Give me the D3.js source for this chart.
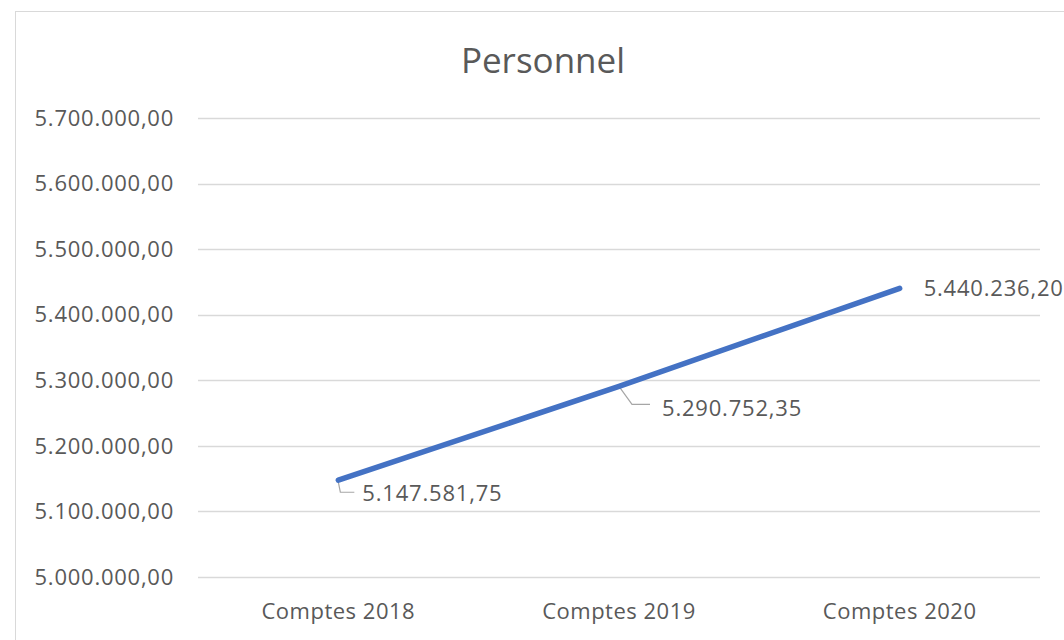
<!DOCTYPE html>
<meta charset="utf-8">
<style>
body { margin: 0; background: #fff; }
text { font-family: "Open Sans", "Noto Sans", sans-serif; fill: #595959; }
.title { font-size: 35px; text-anchor: middle; }
.tick-label { font-size: 22px; letter-spacing: 0.75px; }
.cat-label { font-size: 22px; letter-spacing: 0.5px; text-anchor: middle; }
.data-label { font-size: 22px; letter-spacing: 0.8px; }
</style>
<svg width="1064" height="640"></svg>
<script src="https://cdn.jsdelivr.net/npm/d3@7"></script>
<script>

var categories = ["Comptes 2018", "Comptes 2019", "Comptes 2020"];
var values = [5147581.75, 5290752.35, 5440236.20];
var yTicks = [5000000, 5100000, 5200000, 5300000, 5400000, 5500000, 5600000, 5700000];

var svg = d3.select("svg"),
    width = +svg.attr("width"),
    height = +svg.attr("height");

var locale = d3.formatLocale({ decimal: ",", thousands: ".", grouping: [3], currency: ["", ""] });
var fmt = locale.format(",.2f");

// chart frame
svg.append("rect")
    .attr("x", 15.5).attr("y", 11.5)
    .attr("width", 1100).attr("height", 700)
    .attr("fill", "#fff")
    .attr("stroke", "#d9d9d9");

var x = d3.scalePoint()
    .domain(categories)
    .range([198, 1040])
    .padding(0.5);

var y = d3.scaleLinear()
    .domain([5000000, 5700000])
    .range([577, 118]);

svg.append("text")
    .attr("class", "title")
    .attr("x", 543).attr("y", 73)
    .text("Personnel");

// gridlines
svg.append("g").selectAll("line")
    .data(yTicks)
    .enter().append("line")
      .attr("x1", 198).attr("x2", 1040)
      .attr("y1", function(d) { return Math.round(y(d)) + 0.5; })
      .attr("y2", function(d) { return Math.round(y(d)) + 0.5; })
      .attr("stroke", "#d9d9d9")
      .attr("stroke-width", 1.3);

svg.append("g").selectAll("text")
    .data(yTicks)
    .enter().append("text")
      .attr("class", "tick-label")
      .attr("x", 174)
      .attr("y", function(d) { return y(d); })
      .attr("dy", "0.35em")
      .attr("text-anchor", "end")
      .text(function(d) { return fmt(d); });

svg.append("g").selectAll("text")
    .data(categories)
    .enter().append("text")
      .attr("class", "cat-label")
      .attr("x", function(d) { return x(d); })
      .attr("y", 619)
      .text(function(d) { return d; });

var pts = categories.map(function(c, i) { return { cat: c, v: values[i] }; });

var line = d3.line()
    .x(function(d) { return x(d.cat); })
    .y(function(d) { return y(d.v); });

// leader lines (first two labels sit below the line)
var leaders = [[[0, 2], [2, 12], [16, 12]], [[0, 0], [13, 18], [31, 18]]];
svg.append("g").selectAll("path")
    .data(leaders)
    .enter().append("path")
      .attr("fill", "none")
      .attr("stroke", "#a6a6a6")
      .attr("stroke-width", 1.2)
      .attr("d", function(d, i) {
        var px = x(pts[i].cat), py = y(pts[i].v);
        return d3.line()(d.map(function(p) { return [px + p[0], py + p[1]]; }));
      });

svg.append("path")
    .datum(pts)
    .attr("fill", "none")
    .attr("stroke", "#4472c4")
    .attr("stroke-width", 5.5)
    .attr("stroke-linecap", "round")
    .attr("d", line);

var labelOff = [[24, 13], [43, 22], [24, 0]];
svg.append("g").selectAll("text")
    .data(pts)
    .enter().append("text")
      .attr("class", "data-label")
      .attr("x", function(d, i) { return x(d.cat) + labelOff[i][0]; })
      .attr("y", function(d, i) { return y(d.v) + labelOff[i][1]; })
      .attr("dy", "0.35em")
      .text(function(d) { return fmt(d.v); });

</script>
